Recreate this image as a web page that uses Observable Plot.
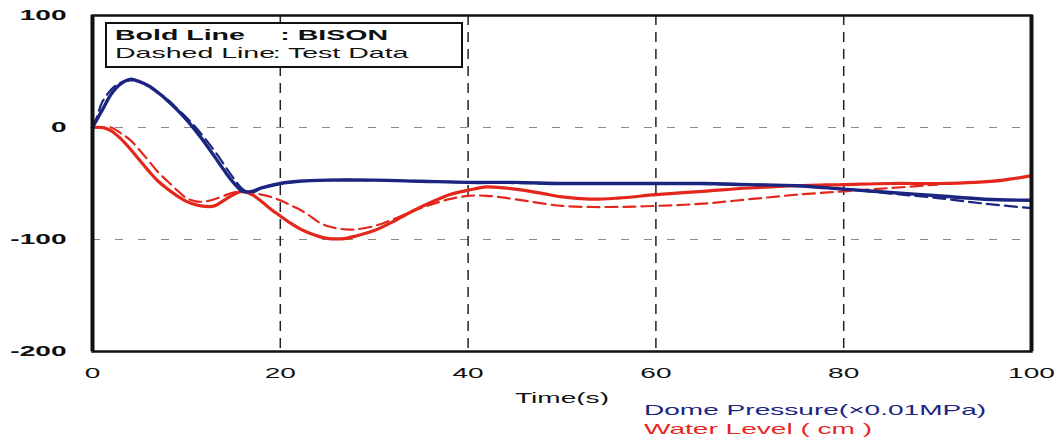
<!DOCTYPE html>
<html>
<head>
<meta charset="utf-8">
<script src="https://cdn.jsdelivr.net/npm/d3@7"></script>
<script src="https://cdn.jsdelivr.net/npm/@observablehq/plot@0.6"></script>
<style>
  body { margin: 0; background: #fff; font-family: "Liberation Sans", Arial, sans-serif; }
  #wrap { position: relative; width: 1058px; height: 446px; overflow: hidden; background: #fff; }
  .stretch { display: inline-block; transform: scaleX(1.87); transform-origin: 0 0; white-space: nowrap; }
  #key { position: absolute; left: 105px; top: 22px; width: 358px; height: 46px; box-sizing: border-box;
         border: 2px solid #111; background: #fff; }
  #key .stretch { position: absolute; left: 8px; top: 2px; font-size: 15px; line-height: 18px; color: #111; transform: scaleX(1.9); }
  #key .c1 { display: inline-block; }
  #legend { position: absolute; left: 644px; top: 400px; font-size: 15px; line-height: 19px; }
  svg [aria-label="y-axis tick label"] text { font-weight: bold; }
</style>
</head>
<body>
<div id="wrap"></div>
<script>
// ---- data ----
const xTicks = [0, 20, 40, 60, 80, 100];
const yTicks = [100, 0, -100, -200];
const xGrid = [20, 40, 60, 80];
const yGrid = [0, -100];
const xEdges = [0, 100];

// Dome pressure, BISON (bold blue)
const bisonPressureT = [0, 1, 2, 3, 4, 5, 6, 7, 8, 9, 10, 11, 12, 13, 14, 15, 16, 17, 18, 20, 22, 25, 30, 35, 40, 45, 50, 55, 60, 65, 70, 75, 80, 85, 90, 95, 100];
const bisonPressureV = [0, 15, 30, 39, 43, 41, 37, 31, 24, 16, 7, -3, -14, -26, -38, -49, -57, -57, -54, -50, -48, -47, -47, -48, -49, -49, -50, -50, -50, -50, -51, -52, -55, -58, -61, -64, -65];

// Dome pressure, test data (dashed blue)
const testPressureT = [0, 0.5, 1, 2, 3, 4, 5, 6, 7, 8, 9, 10, 11, 12, 13, 14, 15, 16, 17, 18, 20, 25, 30, 40, 50, 60, 70, 75, 80, 85, 90, 95, 100];
const testPressureV = [0, 10, 22, 34, 40, 42, 41, 37, 31, 25, 17, 9, 0, -10, -21, -33, -45, -55, -58, -54, -50, -47, -47, -49, -50, -50, -51, -52, -55, -59, -63, -68, -72];

// Water level, BISON (bold red)
const bisonLevelT = [0, 1, 2, 3, 4, 5, 6, 7, 8, 9, 10, 11, 12, 13, 14, 15, 16, 17, 18, 19, 20, 21, 22, 23, 24, 25, 26, 27, 28, 30, 32, 34, 36, 38, 40, 42, 45, 48, 50, 53, 56, 60, 65, 70, 75, 80, 85, 90, 94, 97, 100];
const bisonLevelV = [0, 0, -3, -10, -19, -29, -39, -48, -55, -61, -66, -69, -70.5, -70, -65, -60, -57, -60, -66, -73, -79, -85, -90, -94, -97, -99, -99.5, -99, -97, -92, -84, -75, -67, -60, -56, -53, -55, -59, -62, -64, -63, -60, -57, -54, -52, -51, -50, -50, -49, -47, -43];

// Water level, test data (dashed red)
const testLevelT = [0, 1, 2, 3, 4, 5, 6, 7, 8, 9, 10, 11, 12, 13, 14, 15, 16, 17, 18, 19, 20, 21, 22, 23, 24, 25, 26, 27, 28, 30, 32, 34, 36, 38, 40, 42, 45, 50, 55, 60, 65, 70, 75, 80, 85, 90];
const testLevelV = [0, 0, 0, -5, -11, -20, -30, -40, -48, -56, -63, -66, -66, -64, -61, -58, -57, -58, -60, -62, -65, -69, -73, -78, -84, -88, -90, -91, -91, -88, -82, -75, -69, -64, -61, -61, -64, -70, -71, -70, -68, -64, -60, -57, -54, -51];

const blue = "#1b2580";
const red = "#e3271c";

const toRows = (ts, vs) => ts.map((t, i) => ({t, v: vs[i]}));
const bisonPressure = toRows(bisonPressureT, bisonPressureV);
const testPressure = toRows(testPressureT, testPressureV);
const bisonLevel = toRows(bisonLevelT, bisonLevelV);
const testLevel = toRows(testLevelT, testLevelV);

const plot = Plot.plot({
  width: 1058,
  height: 405,
  marginLeft: 92,
  marginRight: 27,
  marginTop: 15,
  marginBottom: 54,
  style: {fontFamily: "'Liberation Sans', Arial, sans-serif", fontSize: "15px", color: "#111", background: "transparent"},
  x: {domain: [0, 100]},
  y: {domain: [-200, 100]},
  marks: [
    Plot.ruleY(yGrid, {stroke: "#8a8a8a", strokeWidth: 1, strokeDasharray: "8,15"}),
    Plot.ruleX(xGrid, {stroke: "#222", strokeWidth: 1.5, strokeDasharray: "10,7"}),
    Plot.line(testLevel, {x: "t", y: "v", stroke: red, strokeWidth: 2.2, strokeDasharray: "12,6", curve: "catmull-rom"}),
    Plot.line(testPressure, {x: "t", y: "v", stroke: blue, strokeWidth: 2.2, strokeDasharray: "12,6", curve: "catmull-rom"}),
    Plot.line(bisonLevel, {x: "t", y: "v", stroke: red, strokeWidth: 3.2, curve: "catmull-rom"}),
    Plot.line(bisonPressure, {x: "t", y: "v", stroke: blue, strokeWidth: 3.4, curve: "catmull-rom"}),
    Plot.frame({stroke: "#111", strokeWidth: 2.5}),
    Plot.ruleX(xEdges, {stroke: "#111", strokeWidth: 4}),
    Plot.axisY({ticks: yTicks, tickSize: 0, tickPadding: 26, tickFormat: d => String(d), label: null}),
    Plot.axisX({ticks: xTicks, tickSize: 0, tickPadding: 16, tickFormat: d => String(d), label: null}),
    Plot.axisX({ticks: [], tickSize: 0, label: "Time(s)", labelAnchor: "center", labelOffset: 51, labelArrow: "none", dx: -8})
  ]
});

const wrap = document.getElementById("wrap");
wrap.appendChild(plot);

// the reference's lettering is stretched horizontally (about 1.87x)
plot.querySelectorAll("text").forEach(el => {
  const L = el.getComputedTextLength();
  if (L > 0) {
    el.setAttribute("textLength", (L * 1.87).toFixed(1));
    el.setAttribute("lengthAdjust", "spacingAndGlyphs");
  }
});

// key box (top left)
const key = document.createElement("div");
key.id = "key";
key.innerHTML = `<div class="stretch">
  <div><span class="c1" style="width:87px;font-weight:bold">Bold Line</span><span style="font-weight:bold">: BISON</span></div>
  <div><span class="c1" style="width:83px">Dashed Line</span><span>: Test Data</span></div>
</div>`;
wrap.appendChild(key);

// series legend below the plot
const legend = document.createElement("div");
legend.id = "legend";
legend.innerHTML = `<div class="stretch">
  <div style="color:${blue}">Dome Pressure(×0.01MPa)</div>
  <div style="color:${red}">Water Level ( cm )</div>
</div>`;
wrap.appendChild(legend);
</script>
</body>
</html>
